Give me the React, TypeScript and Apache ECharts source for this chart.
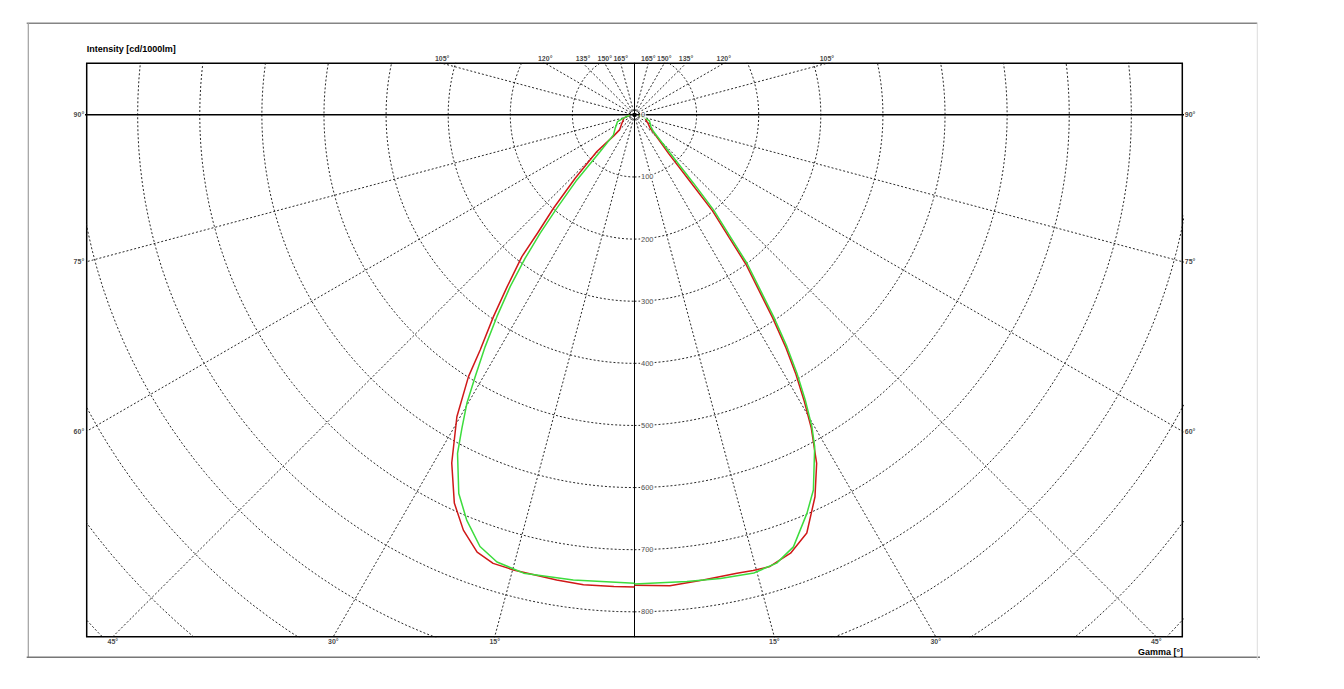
import { useEffect, useRef } from 'react'
import * as echarts from 'echarts'

// C0 plane (red), right half: gamma [deg] and intensity [cd/1000lm]
const gammaC0 = [85, 72.9, 62, 58.2, 49.7, 47.5, 41.4, 39.78, 39.1, 37.66, 36.73, 35.32, 34.25, 33.05, 31.9, 30.68, 29.47, 27.6, 25.3, 22.4, 19.6, 16.7, 14.6, 12.6, 8.4, 4.3, 0]
const intensityC0 = [8, 18, 22, 25.4, 33.1, 41, 83.7, 145.2, 199.2, 249.6, 300, 347.3, 394.9, 447, 491.8, 535.5, 578.4, 633, 680, 728, 749, 759, 758, 756, 757, 760, 757]

// C180 plane (red), left half
const gammaC180 = [85, 73.3, 60, 56.6, 45, 44.7, 45.7, 43.13, 40.96, 39.36, 38.47, 36.55, 34.96, 33.29, 32.39, 30.48, 27.7, 24.9, 22.4, 19.8, 17.5, 14.9, 9.5, 6.2, 2.5, 0]
const intensityC180 = [8, 18, 22, 24.3, 34.2, 47.6, 84.6, 139.7, 199, 246, 291.5, 344.2, 396.3, 452.7, 499, 563.8, 633, 689, 723, 748, 757, 758, 759, 761, 760, 760]

// C90 plane (green), right half
const gammaC90 = [85, 72.9, 68.2, 54.5, 48.7, 42.99, 40.82, 39.75, 38.18, 37.16, 35.69, 34.58, 33.33, 32.16, 30.92, 29.64, 28.5, 25.5, 23.4, 20.2, 17.6, 14.6, 10.5, 6.4, 0]
const intensityC90 = [8, 18, 26, 32.4, 40.7, 84.3, 145.3, 199, 249.3, 299.7, 347, 394.5, 446.6, 491.3, 535, 577.5, 608, 669, 699, 741, 757, 762, 759, 756, 755]

// C270 plane (green), left half
const gammaC270 = [85, 73.3, 68.5, 55.4, 46.4, 43.06, 41.55, 39.75, 38.56, 37.33, 35.9, 34.3, 32.8, 31.33, 30.17, 28.85, 27.6, 24.9, 22.5, 19.7, 17.1, 13.6, 7.5, 0]
const intensityC270 = [8, 18.5, 29.4, 37.7, 46.7, 80.9, 139.9, 195.4, 243.6, 290.2, 341.4, 393.2, 443.8, 493.4, 537, 576, 615, 672, 706, 738, 753, 759, 755, 754]

const ringLevels = [100, 200, 300, 400, 500, 600, 700, 800, 900, 1000, 1100, 1200]
const ringLabels = [0, 100, 200, 300, 400, 500, 600, 700, 800]
const rayAngles = [15, 30, 45, 60, 75, 90, 105, 120, 135, 150, 165]

const X_MIN = -882
const X_MAX = 882
const Y_MIN = -840
const Y_MAX = 83

const FONT = 'Liberation Sans, Arial, sans-serif'

const rad = (d: number) => (d * Math.PI) / 180
const toXY = (gamma: number, value: number, side: number) => [
  side * value * Math.sin(rad(gamma)),
  -value * Math.cos(rad(gamma)),
]

const dashed = { color: '#111', width: 0.9, type: [2, 2] as number[] }

function curve(name: string, gammas: number[], values: number[], side: number, color: string, z: number) {
  return {
    type: 'line',
    name,
    data: gammas.map((g, i) => toXY(g, values[i], side)),
    symbol: 'none',
    silent: true,
    lineStyle: { color, width: 1.5 },
    z,
  }
}

export default function App() {
  const ref = useRef<HTMLDivElement>(null)

  useEffect(() => {
    if (!ref.current) return
    const chart = echarts.init(ref.current, undefined, { renderer: 'svg' })

    const rings = ringLevels.map((r) => ({
      type: 'line',
      data: Array.from({ length: 181 }, (_, i) => toXY(i * 2, r, 1)),
      symbol: 'none',
      silent: true,
      lineStyle: dashed,
      z: 1,
    }))

    const rays: any[] = []
    for (const side of [-1, 1]) {
      for (const g of rayAngles) {
        if (g === 90) continue
        rays.push({
          type: 'line',
          data: [[0, 0], toXY(g, 1500, side)],
          symbol: 'none',
          silent: true,
          lineStyle: dashed,
          z: 1,
        })
      }
    }

    // angle labels where each ray leaves the plot frame
    const edgeLabels: any[] = []
    for (const side of [-1, 1]) {
      for (const g of rayAngles) {
        const dx = side * Math.sin(rad(g))
        const dy = -Math.cos(rad(g))
        const tx = Math.abs(dx) > 1e-9 ? X_MAX / Math.abs(dx) : Infinity
        const ty = dy < -1e-9 ? -Y_MIN / -dy : dy > 1e-9 ? Y_MAX / dy : Infinity
        const t = Math.min(tx, ty)
        const onSide = tx <= ty
        edgeLabels.push({
          value: [dx * t, Math.abs(dy) < 1e-9 ? 0 : dy * t, g],
          label: {
            position: onSide ? (side < 0 ? 'left' : 'right') : dy < 0 ? 'bottom' : 'top',
            distance: onSide ? 2 : 1,
          },
        })
      }
    }

    chart.setOption({
      animation: false,
      grid: {
        left: 86.7,
        top: 63.3,
        right: 161.7,
        bottom: 52.3,
        show: true,
        borderColor: '#000',
        borderWidth: 1.5,
        backgroundColor: 'transparent',
      },
      xAxis: { type: 'value', min: X_MIN, max: X_MAX, show: false },
      yAxis: { type: 'value', min: Y_MIN, max: Y_MAX, show: false },
      graphic: [
        { type: 'line', shape: { x1: 26.7, y1: 23.3, x2: 1257.3, y2: 23.3 }, style: { stroke: '#858585', lineWidth: 1.5 } },
        { type: 'line', shape: { x1: 28.3, y1: 23, x2: 28.3, y2: 657.3 }, style: { stroke: '#a0a0a0', lineWidth: 1.2 } },
        { type: 'line', shape: { x1: 26.7, y1: 657.3, x2: 1260, y2: 657.3 }, style: { stroke: '#777', lineWidth: 1.5 } },
        { type: 'line', shape: { x1: 1257.3, y1: 23, x2: 1257.3, y2: 660 }, style: { stroke: '#dcdcdc', lineWidth: 1 } },
        {
          type: 'text',
          x: 86.7,
          y: 49,
          style: {
            text: 'Intensity [cd/1000lm]',
            fill: '#000',
            fontSize: 9,
            fontWeight: 'bold',
            fontFamily: FONT,
            textAlign: 'left',
            textVerticalAlign: 'middle',
          },
        },
        {
          type: 'text',
          x: 1183,
          y: 652,
          style: {
            text: 'Gamma [°]',
            fill: '#000',
            fontSize: 9,
            fontWeight: 'bold',
            fontFamily: FONT,
            textAlign: 'right',
            textVerticalAlign: 'middle',
          },
        },
      ],
      series: [
        ...rings,
        ...rays,
        {
          type: 'line',
          data: [[X_MIN - 50, 0], [X_MAX + 50, 0]],
          symbol: 'none',
          silent: true,
          lineStyle: { color: '#000', width: 1.5 },
          z: 2,
        },
        {
          type: 'line',
          data: [[0, Y_MIN - 50], [0, Y_MAX + 50]],
          symbol: 'none',
          silent: true,
          lineStyle: { color: '#000', width: 1 },
          z: 2,
        },
        curve('C0', gammaC0, intensityC0, 1, '#d01818', 5),
        curve('C180', gammaC180, intensityC180, -1, '#d01818', 5),
        curve('C90', gammaC90, intensityC90, 1, '#3ddc3d', 6),
        curve('C270', gammaC270, intensityC270, -1, '#3ddc3d', 6),
        {
          type: 'scatter',
          data: [[0, 0]],
          symbolSize: 4,
          silent: true,
          itemStyle: { color: '#000' },
          z: 7,
        },
        {
          type: 'scatter',
          data: ringLabels.map((r) => [0, -r]),
          symbolSize: 1,
          silent: true,
          itemStyle: { color: 'transparent' },
          label: {
            show: true,
            position: 'right',
            distance: 5,
            formatter: (p: any) => String(-p.value[1] || 0),
            fontSize: 7.5,
            fontFamily: FONT,
            color: '#222',
            backgroundColor: '#fff',
            padding: [0, 1],
          },
          z: 8,
        },
        {
          type: 'scatter',
          data: edgeLabels,
          clip: false,
          symbolSize: 1,
          silent: true,
          itemStyle: { color: 'transparent' },
          label: {
            show: true,
            formatter: (p: any) => `${p.value[2]}°`,
            fontSize: 7,
            fontWeight: 'bold',
            fontFamily: FONT,
            color: '#111',
          },
          z: 8,
        },
      ],
    })

    return () => chart.dispose()
  }, [])

  return (
    <div
      ref={ref}
      style={{ position: 'fixed', left: 0, top: 0, width: 1344, height: 689, background: '#fff' }}
    />
  )
}
